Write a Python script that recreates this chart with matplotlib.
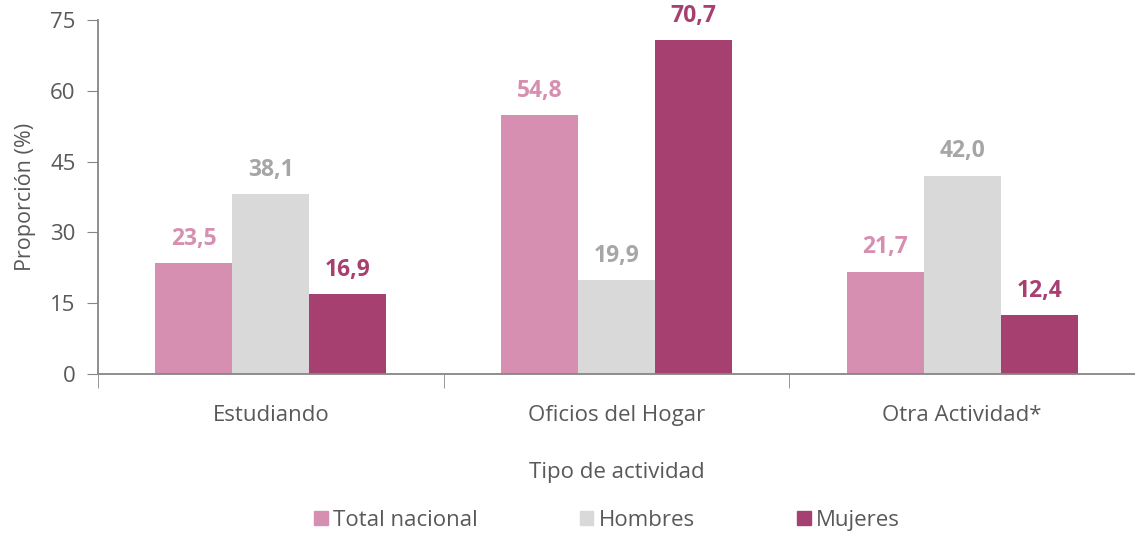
import numpy as np
import matplotlib.pyplot as plt
from matplotlib.patches import Patch

categorias = ["Estudiando", "Oficios del Hogar", "Otra Actividad*"]
total_nacional = [23.5, 54.8, 21.7]
hombres = [38.1, 19.9, 42.0]
mujeres = [16.9, 70.7, 12.4]
series = ["Total nacional", "Hombres", "Mujeres"]
yticks = [0, 15, 30, 45, 60, 75]

bar_colors = ["#D68FB1", "#D9D9D9", "#A64071"]
label_colors = ["#D68FB1", "#A6A6A6", "#A64071"]
gray = "#595959"

plt.rcParams['font.family'] = ['Open Sans', 'DejaVu Sans']

fig = plt.figure(figsize=(11.35, 5.35), dpi=100)
ax = fig.add_axes([0.0863, 0.301, 0.9137, 0.6616])

x = np.arange(len(categorias))
w = 0.223
for i, vals in enumerate([total_nacional, hombres, mujeres]):
    pos = x + (i - 1) * w
    ax.bar(pos, vals, width=w, color=bar_colors[i], label=series[i])
    for p, v in zip(pos, vals):
        ax.text(p, v + 2.6, f"{v:.1f}".replace(".", ","), ha="center", va="bottom",
                fontsize=16.5, fontweight="bold", color=label_colors[i])

ax.set_xlim(-0.5, 2.5)
ax.set_ylim(0, 75)
ax.set_yticks(yticks)
ax.tick_params(axis="y", labelsize=16, labelcolor=gray, color="#868686", length=8, pad=8)
ax.set_xticks(x)
ax.set_xticklabels(categorias)
ax.tick_params(axis="x", which="major", length=0, labelsize=16, labelcolor=gray, pad=22)
ax.set_xticks([-0.5, 0.5, 1.5, 2.5], minor=True)
ax.tick_params(axis="x", which="minor", length=10, color="#868686")

for s in ["top", "right"]:
    ax.spines[s].set_visible(False)
for s in ["left", "bottom"]:
    ax.spines[s].set_color("#868686")
    ax.spines[s].set_linewidth(1.3)

ax.set_ylabel("Proporción (%)", fontsize=15.5, color=gray, labelpad=10)
ax.set_xlabel("Tipo de actividad", fontsize=16, color=gray, labelpad=26)

handles = [Patch(color=c) for c in bar_colors]
fig.legend(handles, series, loc="center", bbox_to_anchor=(0.535, 0.028), ncol=3,
           frameon=False, fontsize=16, labelcolor=gray, handlelength=0.6, handleheight=0.6,
           handletextpad=0.25, columnspacing=4.6)

fig.savefig("out.png", dpi=100)
